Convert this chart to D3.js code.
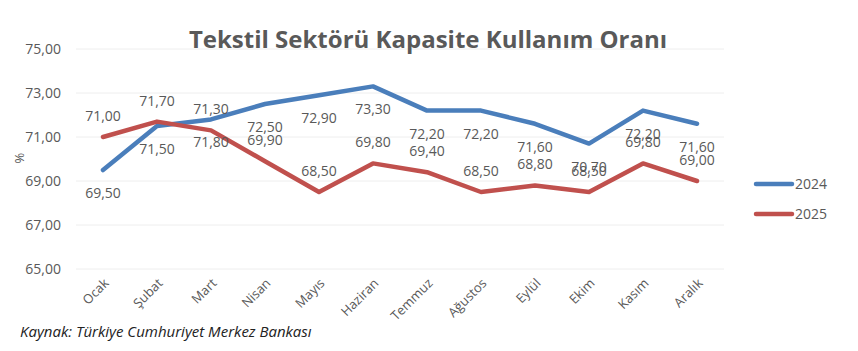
<!DOCTYPE html>
<html><head><meta charset="utf-8">
<script src="https://cdn.jsdelivr.net/npm/d3@7"></script>
<style>body{margin:0;background:#fff}svg{display:block}</style>
</head><body>
<svg id="c" width="858" height="351"></svg>
<script>
const months = ["Ocak","Şubat","Mart","Nisan","Mayıs","Haziran","Temmuz","Ağustos","Eylül","Ekim","Kasım","Aralık"];
const values2024 = [69.5,71.5,71.8,72.5,72.9,73.3,72.2,72.2,71.6,70.7,72.2,71.6];
const values2025 = [71.0,71.7,71.3,69.9,68.5,69.8,69.4,68.5,68.8,68.5,69.8,69.0];
const yTicks = [65,67,69,71,73,75];
const seriesNames = ["2024","2025"];
const title = "Tekstil Sektörü Kapasite Kullanım Oranı";
const source = "Kaynak: Türkiye Cumhuriyet Merkez Bankası";

const svg = d3.select("#c");
const font = "'Open Sans', sans-serif";
const grey = "#595959";
const colors = ["#4a7ebb","#c0504d"];

const x = d3.scalePoint().domain(months).range([103,697]);
const y = d3.scaleLinear().domain([65,75]).range([269,49]);
const fmt = v => d3.format(".2f")(v).replace(".", ",");

// gridlines
svg.append("g").selectAll("line").data(yTicks).join("line")
  .attr("x1",76).attr("x2",724)
  .attr("y1",d=>y(d)).attr("y2",d=>y(d))
  .attr("stroke","#eeeeee").attr("stroke-width",1);

// y axis
const yAxis = svg.append("g").attr("transform","translate(61,0)")
  .call(d3.axisLeft(y).tickValues(yTicks).tickSize(0).tickPadding(0).tickFormat(fmt));
yAxis.select(".domain").remove();
yAxis.selectAll("text").attr("fill",grey).style("font-family",font).style("font-size","14px");

// y title
svg.append("text").attr("transform","translate(24,158) rotate(-90)")
  .attr("text-anchor","middle").attr("fill",grey).style("font-family",font).style("font-size","13px").text("%");

// x axis
const xAxis = svg.append("g").attr("transform","translate(0,272)")
  .call(d3.axisBottom(x).tickSize(0).tickPadding(0));
xAxis.select(".domain").remove();
xAxis.selectAll("text")
  .attr("fill",grey).style("font-family",font).style("font-size","13px")
  .attr("text-anchor","end").attr("dy","0").attr("y",0)
  .attr("transform","translate(6,12) rotate(-45)");

// lines
const line = d3.line().x((d,i)=>x(months[i])).y(d=>y(d));
[values2024, values2025].forEach((vals,k)=>{
  svg.append("path").datum(vals).attr("d",line)
    .attr("fill","none").attr("stroke",colors[k]).attr("stroke-width",4.5)
    .attr("stroke-linejoin","round").attr("stroke-linecap","round");
});

// data labels
const labelOffset = [28, -16];
[values2024, values2025].forEach((vals,k)=>{
  svg.append("g").selectAll("text").data(vals).join("text")
    .attr("x",(d,i)=>x(months[i])).attr("y",d=>y(d)+labelOffset[k])
    .attr("text-anchor","middle").attr("fill",grey)
    .style("font-family",font).style("font-size","14px").text(fmt);
});

// title
svg.append("text").attr("x",428).attr("y",48).attr("text-anchor","middle")
  .attr("fill",grey).style("font-family",font).style("font-size","24px").style("font-weight","bold").text(title);

// legend
seriesNames.forEach((n,k)=>{
  const ly = 184 + k*30;
  svg.append("line").attr("x1",756).attr("x2",792).attr("y1",ly).attr("y2",ly)
    .attr("stroke",colors[k]).attr("stroke-width",4.5).attr("stroke-linecap","round");
  svg.append("text").attr("x",795).attr("y",ly+5).attr("fill",grey)
    .style("font-family",font).style("font-size","14px").text(n);
});

// source
svg.append("text").attr("x",20).attr("y",337).attr("fill","#222")
  .style("font-family",font).style("font-size","15px").style("font-style","italic").text(source);
</script>
</body></html>
